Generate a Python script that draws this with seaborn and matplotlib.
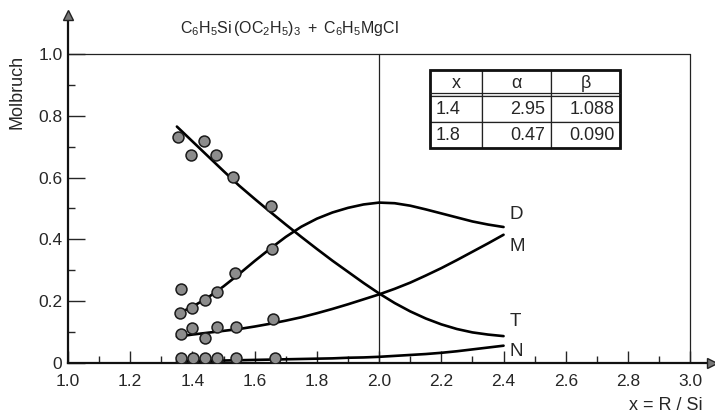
import matplotlib
matplotlib.use("Agg")
import matplotlib.pyplot as plt
import pandas as pd
import seaborn as sns
from matplotlib.patches import Rectangle

# ---------------- data ----------------
x_curve = [1.35, 1.40, 1.45, 1.50, 1.55, 1.60, 1.65, 1.70, 1.75, 1.80, 1.85,
           1.90, 1.95, 2.00, 2.05, 2.10, 2.15, 2.20, 2.25, 2.30, 2.35, 2.40]
T_curve = [0.765, 0.717, 0.669, 0.621, 0.574, 0.531, 0.489, 0.448, 0.408, 0.369, 0.331,
           0.295, 0.259, 0.225, 0.194, 0.167, 0.144, 0.125, 0.110, 0.099, 0.092, 0.087]
D_curve = [0.158, 0.182, 0.212, 0.248, 0.288, 0.330, 0.370, 0.408, 0.441, 0.467, 0.487,
           0.502, 0.513, 0.519, 0.517, 0.509, 0.497, 0.484, 0.471, 0.458, 0.448, 0.440]
M_curve = [0.085, 0.092, 0.098, 0.104, 0.110, 0.118, 0.127, 0.137, 0.148, 0.161, 0.175,
           0.190, 0.206, 0.222, 0.240, 0.260, 0.283, 0.307, 0.333, 0.360, 0.387, 0.415]
N_curve = [0.006, 0.007, 0.007, 0.008, 0.009, 0.010, 0.011, 0.012, 0.013, 0.014, 0.015,
           0.017, 0.018, 0.020, 0.023, 0.026, 0.029, 0.033, 0.038, 0.044, 0.050, 0.056]

T_x = [1.355, 1.396, 1.437, 1.476, 1.530, 1.653]
T_y = [0.732, 0.672, 0.718, 0.674, 0.602, 0.508]
D_x = [1.362, 1.360, 1.398, 1.440, 1.478, 1.537, 1.655]
D_y = [0.241, 0.163, 0.179, 0.204, 0.230, 0.292, 0.369]
M_x = [1.362, 1.398, 1.440, 1.478, 1.539, 1.658]
M_y = [0.093, 0.114, 0.082, 0.118, 0.117, 0.141]
N_x = [1.363, 1.403, 1.440, 1.478, 1.540, 1.666]
N_y = [0.017, 0.017, 0.017, 0.017, 0.017, 0.017]

curve_names = ["D", "M", "T", "N"]
label_y = [0.479, 0.376, 0.134, 0.037]

x_ticks = [1.0, 1.2, 1.4, 1.6, 1.8, 2.0, 2.2, 2.4, 2.6, 2.8, 3.0]
x_ticklabels = ["1.0", "1.2", "1.4", "1.6", "1.8", "2.0", "2.2", "2.4", "2.6", "2.8", "3.0"]
y_ticks = [0.0, 0.2, 0.4, 0.6, 0.8, 1.0]
y_ticklabels = ["0", "0.2", "0.4", "0.6", "0.8", "1.0"]

table_header = ["x", "α", "β"]
table_rows = [["1.4", "2.95", "1.088"],
              ["1.8", "0.47", "0.090"]]

title = r"$\mathrm{C_6H_5Si\,(OC_2H_5)_3\ +\ C_6H_5MgCl}$"

# ---------------- frames ----------------
curves = pd.DataFrame({
    "x": x_curve * 4,
    "y": D_curve + M_curve + T_curve + N_curve,
    "k": ["D"] * len(x_curve) + ["M"] * len(x_curve) + ["T"] * len(x_curve) + ["N"] * len(x_curve),
})
points = pd.DataFrame({
    "x": T_x + D_x + M_x + N_x,
    "y": T_y + D_y + M_y + N_y,
})

# ---------------- style ----------------
sns.set_style("ticks")
plt.rcParams["font.family"] = ["Liberation Sans", "DejaVu Sans"]
plt.rcParams["font.size"] = 11
plt.rcParams["mathtext.fontset"] = "custom"
plt.rcParams["mathtext.rm"] = "Liberation Sans"
plt.rcParams["mathtext.it"] = "Liberation Sans"
plt.rcParams["mathtext.bf"] = "Liberation Sans"

fig = plt.figure(figsize=(7.15, 4.17), dpi=100)
ax = fig.add_axes([68 / 715, 54 / 417, 644 / 715, 348 / 417])

sns.lineplot(data=curves, x="x", y="y", units="k", estimator=None, sort=False,
             color="black", lw=1.9, legend=False, ax=ax, zorder=2)
sns.scatterplot(data=points, x="x", y="y", color="#8c8c8c", edgecolor="#1a1a1a",
                s=62, linewidth=1.1, legend=False, ax=ax, zorder=3)

ax.set_xlim(1.0, 3.07)
ax.set_ylim(0.0, 1.126)
ax.set_xlabel("")
ax.set_ylabel("")

for s in ["top", "right"]:
    ax.spines[s].set_visible(False)
for s in ["left", "bottom"]:
    ax.spines[s].set_linewidth(1.6)
    ax.spines[s].set_color("#111111")

ax.set_xticks(x_ticks)
ax.set_xticklabels(x_ticklabels)
ax.set_xticks([1.1, 1.3, 1.5, 1.7, 1.9, 2.1, 2.3, 2.5, 2.7, 2.9], minor=True)
ax.set_yticks(y_ticks)
ax.set_yticklabels(y_ticklabels)
ax.set_yticks([0.1, 0.3, 0.5, 0.7, 0.9], minor=True)
ax.tick_params(axis="x", which="major", direction="in", length=9, width=1.0, pad=8, labelsize=12.5)
ax.tick_params(axis="x", which="minor", direction="in", length=5, width=1.0)
ax.tick_params(axis="y", which="major", direction="in", length=12, width=1.0, pad=4, labelsize=12.5)
ax.tick_params(axis="y", which="minor", direction="in", length=5, width=1.0)

# frame lines
ax.plot([1.0, 3.0], [1.0, 1.0], color="#222222", lw=0.9, zorder=1)
ax.plot([2.0, 2.0], [0.0, 1.0], color="#222222", lw=0.9, zorder=1)
ax.plot([3.0, 3.0], [0.0, 1.0], color="#222222", lw=0.9, zorder=1)

# axis arrows
ax.plot([1.0], [1.126], marker="^", markersize=7, color="#777777", mec="#222222",
        clip_on=False, zorder=5)
ax.plot([3.07], [0.0], marker=">", markersize=7, color="#777777", mec="#222222",
        clip_on=False, zorder=5)

# curve labels
for name, yy in zip(curve_names, label_y):
    ax.text(2.418, yy, name, fontsize=13.5, ha="left", va="center")

# table
tbl = ax.table(cellText=table_rows, colLabels=table_header, cellLoc="center",
               colWidths=[52, 69, 69], bbox=[362 / 644, 215 / 348, 190 / 644, 78 / 348])
tbl.auto_set_font_size(False)
tbl.set_fontsize(13)
for (r, c), cell in tbl.get_celld().items():
    cell.set_linewidth(0.9)
    cell.set_edgecolor("#222222")
    cell.set_facecolor("white")
    if c == 0 and r > 0:
        cell.set_text_props(ha="left")
        cell.PAD = 0.1
    if (c == 1 or c == 2) and r > 0:
        cell.set_text_props(ha="right")
        cell.PAD = 0.08
ax.add_patch(Rectangle((362 / 644, 215 / 348), 190 / 644, 78 / 348, transform=ax.transAxes,
                       fill=False, lw=2.0, ec="#111111", zorder=10, clip_on=False))
ax.plot([362 / 644, 552 / 644], [(363 - 93) / 348, (363 - 93) / 348], transform=ax.transAxes,
        color="#222222", lw=0.9, zorder=10, clip_on=False)

# texts
fig.text(289 / 715, 1 - 28 / 417, title, ha="center", va="center", fontsize=11.5)
fig.text(17 / 715, 1 - 92 / 417, "Molbruch", rotation=90, ha="center", va="center", fontsize=13)
fig.text(703 / 715, 1 - 405 / 417, "x = R / Si", ha="right", va="center", fontsize=13)

fig.savefig("out.png", dpi=100)
